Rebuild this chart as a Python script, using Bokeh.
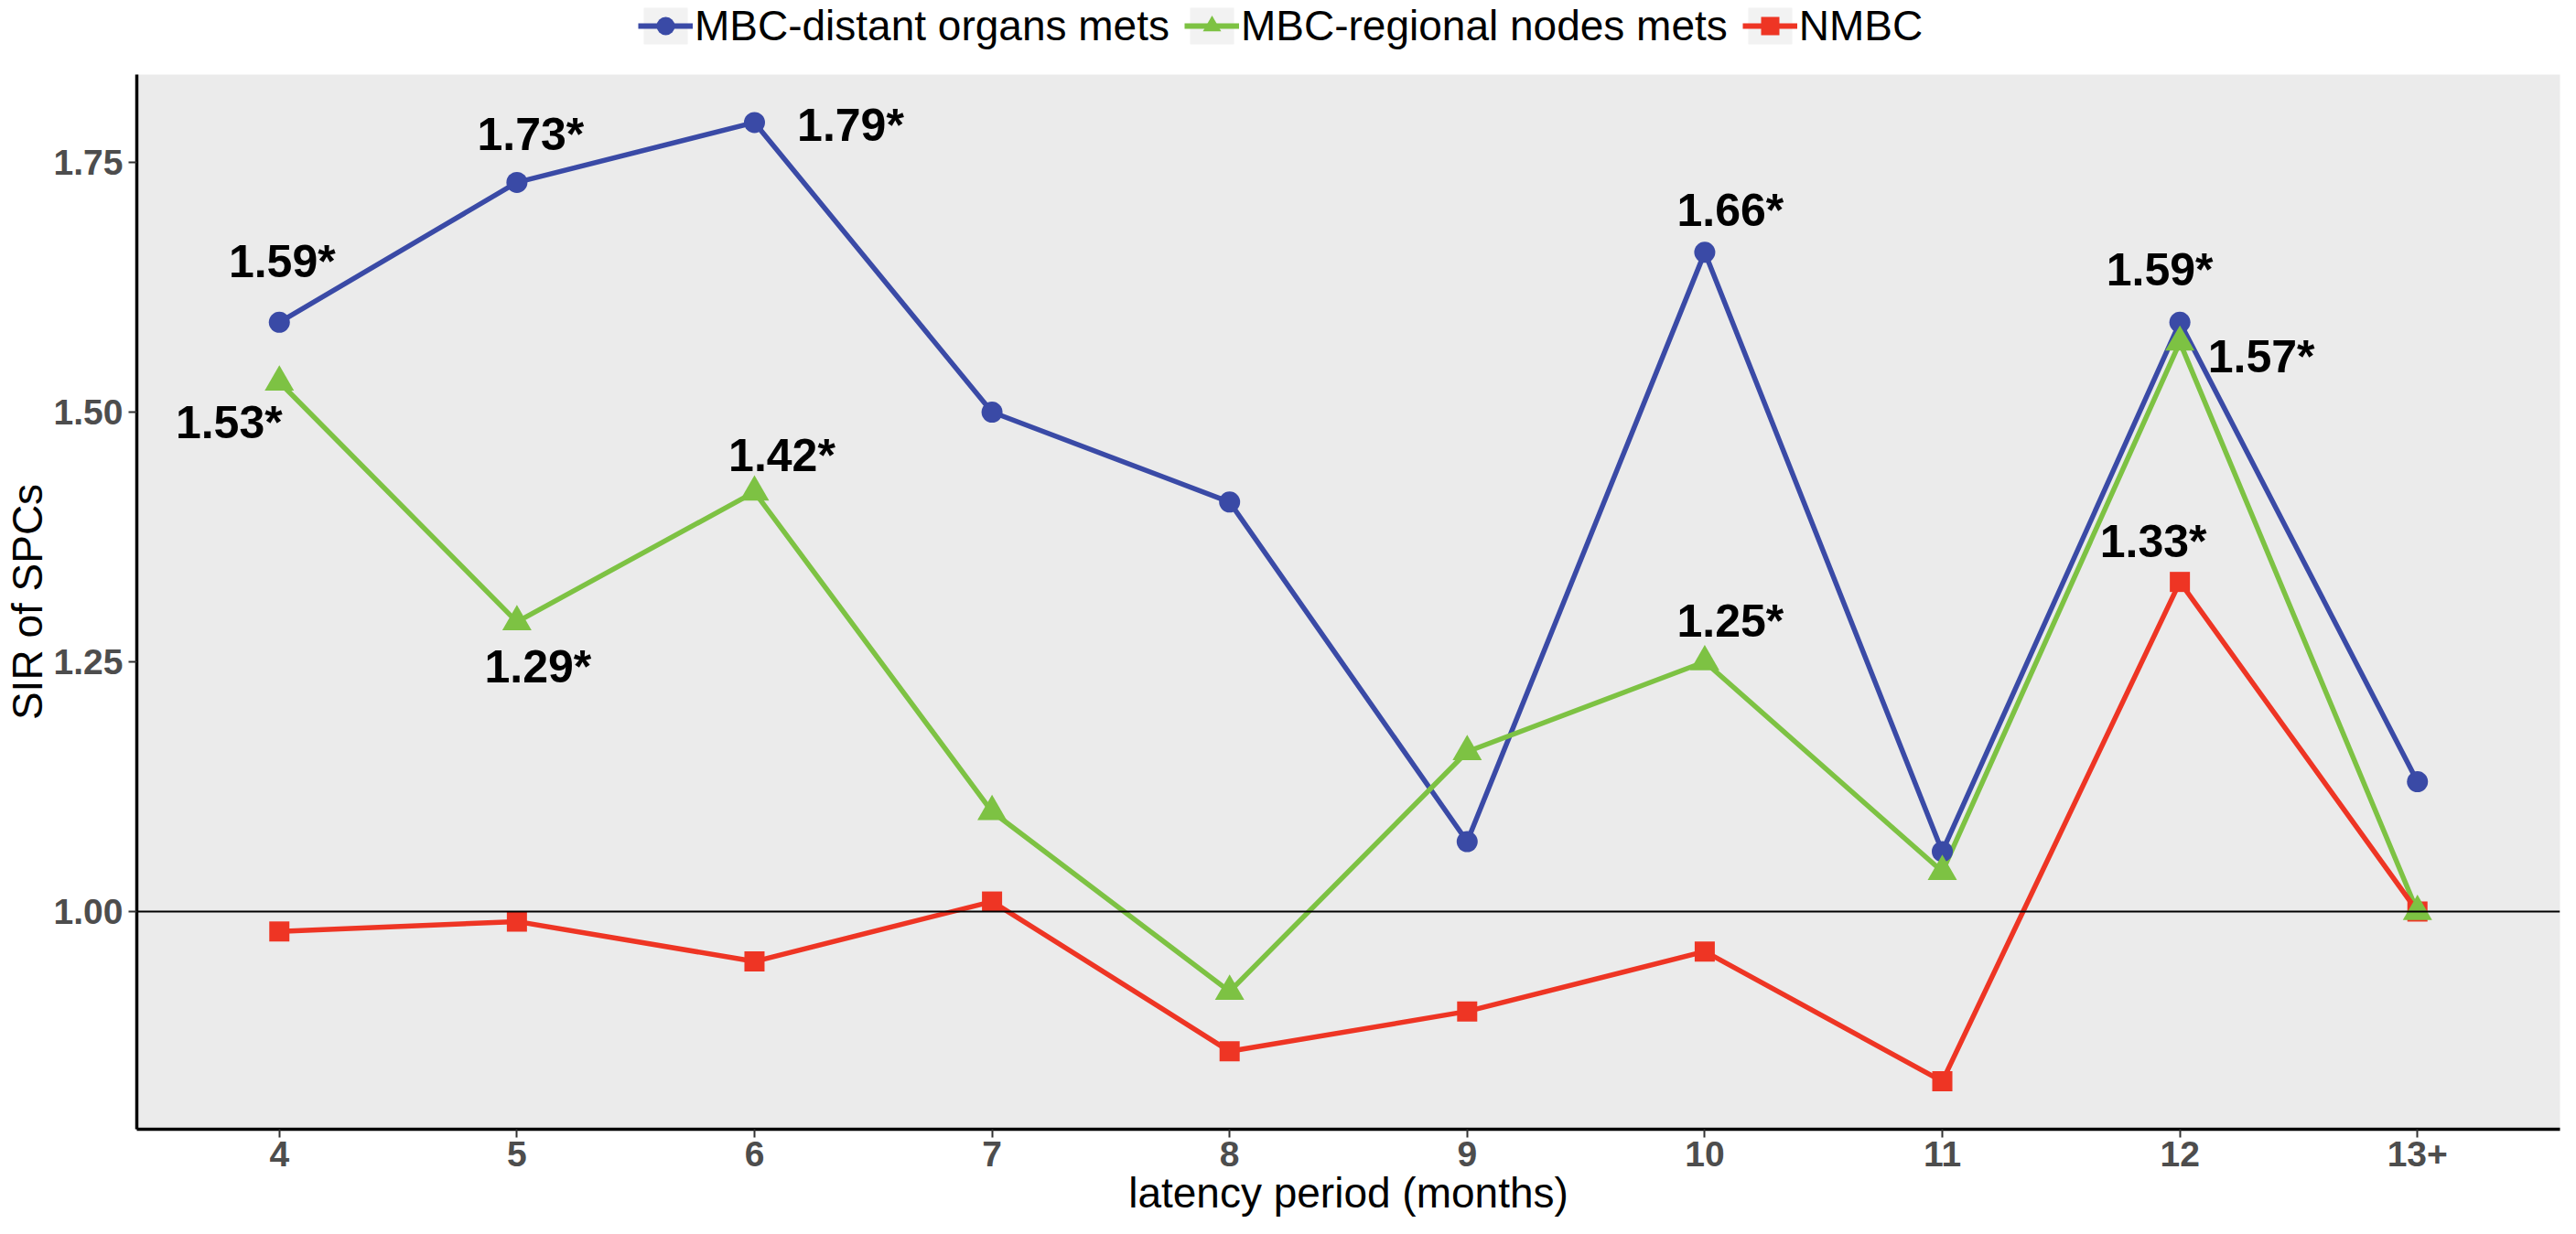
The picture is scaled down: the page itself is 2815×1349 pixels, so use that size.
import numpy as np
from bokeh.plotting import figure
from bokeh.layouts import column
from bokeh.models import (ColumnDataSource, Range1d, FixedTicker, PrintfTickFormatter,
                          Span, Legend, LegendItem)
from bokeh.core.properties import value
from bokeh.embed import file_html
from bokeh.resources import INLINE

# ---------------- data ----------------
categories = ["4", "5", "6", "7", "8", "9", "10", "11", "12", "13+"]
distant = [1.59, 1.73, 1.79, 1.50, 1.41, 1.07, 1.66, 1.06, 1.59, 1.13]
regional = [1.53, 1.29, 1.42, 1.10, 0.92, 1.16, 1.25, 1.04, 1.57, 1.00]
nmbc = [0.98, 0.99, 0.95, 1.01, 0.86, 0.90, 0.96, 0.83, 1.33, 1.00]

distant_labels = ["1.59*", "1.73*", "1.79*", "", "", "", "1.66*", "", "1.59*", ""]
regional_labels = ["1.53*", "1.29*", "1.42*", "", "", "", "1.25*", "", "1.57*", ""]
nmbc_labels = ["", "", "", "", "", "", "", "", "1.33*", ""]

series_names = ["MBC-distant organs mets", "MBC-regional nodes mets", "NMBC"]
y_ticks = [1.00, 1.25, 1.50, 1.75]
x_title = "latency period (months)"
y_title = "SIR of SPCs"

# ---------------- styles ----------------
BLUE = "#3A4AA6"
GREEN = "#7DC243"
RED = "#EE3524"
FONT = "Liberation Sans"
LW = 5.5
colors = [BLUE, GREEN, RED]
markers = [("circle", 23), ("triangle", 32), ("square", 22)]

# label offsets (screen px) for each labelled point, in the order they appear
distant_off = [(3, -66), (15, -52), (105, 3), (28, -46), (-22, -57)]
regional_off = [(-55, 44), (23, 49), (30, -40), (28, -45), (89, 16)]
nmbc_off = [(-29, -44)]

W = 2799
H_LEG = 81
H_MAIN = 1252

# ---------------- main plot ----------------
p = figure(width=W, height=H_MAIN, output_backend="svg", toolbar_location=None,
           x_range=Range1d(0.4, len(categories) + 0.6),
           y_range=Range1d(0.782, 1.838),
           min_border_left=140, min_border_right=2, min_border_top=0, min_border_bottom=99)
p.background_fill_color = "#EBEBEB"
p.border_fill_color = "white"
p.outline_line_color = None
p.grid.visible = False

idx = np.arange(1, len(categories) + 1)

p.xaxis.ticker = FixedTicker(ticks=list(idx))
p.xaxis.major_label_overrides = {int(i): c for i, c in zip(idx, categories)}
p.yaxis.ticker = FixedTicker(ticks=y_ticks)
p.yaxis.formatter = PrintfTickFormatter(format="%.2f")
for ax in (p.xaxis, p.yaxis):
    ax.axis_line_color = "black"
    ax.axis_line_width = 3.5
    ax.major_tick_line_color = "#333333"
    ax.major_tick_line_width = 2
    ax.major_tick_out = 9
    ax.major_tick_in = 0
    ax.minor_tick_line_color = None
    ax.major_label_text_font = FONT
    ax.major_label_text_font_style = "bold"
    ax.major_label_text_font_size = "39px"
    ax.major_label_text_color = "#4D4D4D"
    ax.axis_label_text_font = FONT
    ax.axis_label_text_font_style = "normal"
    ax.axis_label_text_font_size = "46px"
    ax.axis_label_text_color = "black"
p.xaxis.axis_label = x_title
p.yaxis.axis_label = y_title
p.xaxis.major_label_standoff = 4
p.yaxis.major_label_standoff = 6
p.xaxis.axis_label_standoff = 0
p.yaxis.axis_label_standoff = 0

p.add_layout(Span(location=1.0, dimension="width", line_color="black", line_width=2))

p.line(idx, distant, line_color=BLUE, line_width=LW)
p.line(idx, regional, line_color=GREEN, line_width=LW)
p.line(idx, nmbc, line_color=RED, line_width=LW)

p.scatter(idx, distant, marker="circle", size=23, fill_color=BLUE, line_color=None)
p.scatter(idx, nmbc, marker="square", size=22, fill_color=RED, line_color=None)
p.scatter(idx, regional, marker="triangle", size=32, fill_color=GREEN, line_color=None)

lx, ly, lt, ox, oy = [], [], [], [], []
for vals, labs, offs in ((distant, distant_labels, distant_off),
                         (regional, regional_labels, regional_off),
                         (nmbc, nmbc_labels, nmbc_off)):
    k = 0
    for i, (v, t) in enumerate(zip(vals, labs)):
        if t:
            lx.append(idx[i]); ly.append(v); lt.append(t)
            ox.append(offs[k][0]); oy.append(offs[k][1]); k += 1
src = ColumnDataSource(dict(x=lx, y=ly, t=lt, ox=ox, oy=oy))
p.text(x="x", y="y", text="t", x_offset="ox", y_offset="oy", source=src,
       text_font=value(FONT), text_font_style="bold", text_font_size="50px",
       text_color="black", text_align="center", text_baseline="middle")

# ---------------- legend strip ----------------
lf = figure(width=W, height=H_LEG, output_backend="svg", toolbar_location=None,
            x_range=Range1d(0, 1), y_range=Range1d(0, 1),
            x_axis_location=None, y_axis_location=None,
            min_border=0)
lf.grid.visible = False
lf.outline_line_color = None
lf.background_fill_color = "white"
lf.border_fill_color = "white"

items = []
for name, col, (mk, sz) in zip(series_names, colors, markers):
    bg = lf.rect(x=[-10], y=[-10], width=1, height=1, fill_color="#F2F2F2", line_color=None)
    ln = lf.line([-10, -9], [-10, -10], line_color=col, line_width=6)
    pt = lf.scatter([-10], [-10], marker=mk, size=sz, fill_color=col, line_color=None)
    items.append(LegendItem(label=name, renderers=[bg, ln, pt]))

legend = Legend(items=items, orientation="horizontal", location=(548, 26),
                glyph_width=60, glyph_height=50, label_standoff=2, spacing=16,
                padding=0, margin=0, border_line_alpha=0, background_fill_alpha=0,
                label_text_font=FONT, label_text_font_size="46px", label_text_color="black",
                label_text_baseline="middle", label_height=50)
lf.add_layout(legend, "center")

layout = column(lf, p, spacing=0)
open("out.html", "w").write(file_html(layout, INLINE))
